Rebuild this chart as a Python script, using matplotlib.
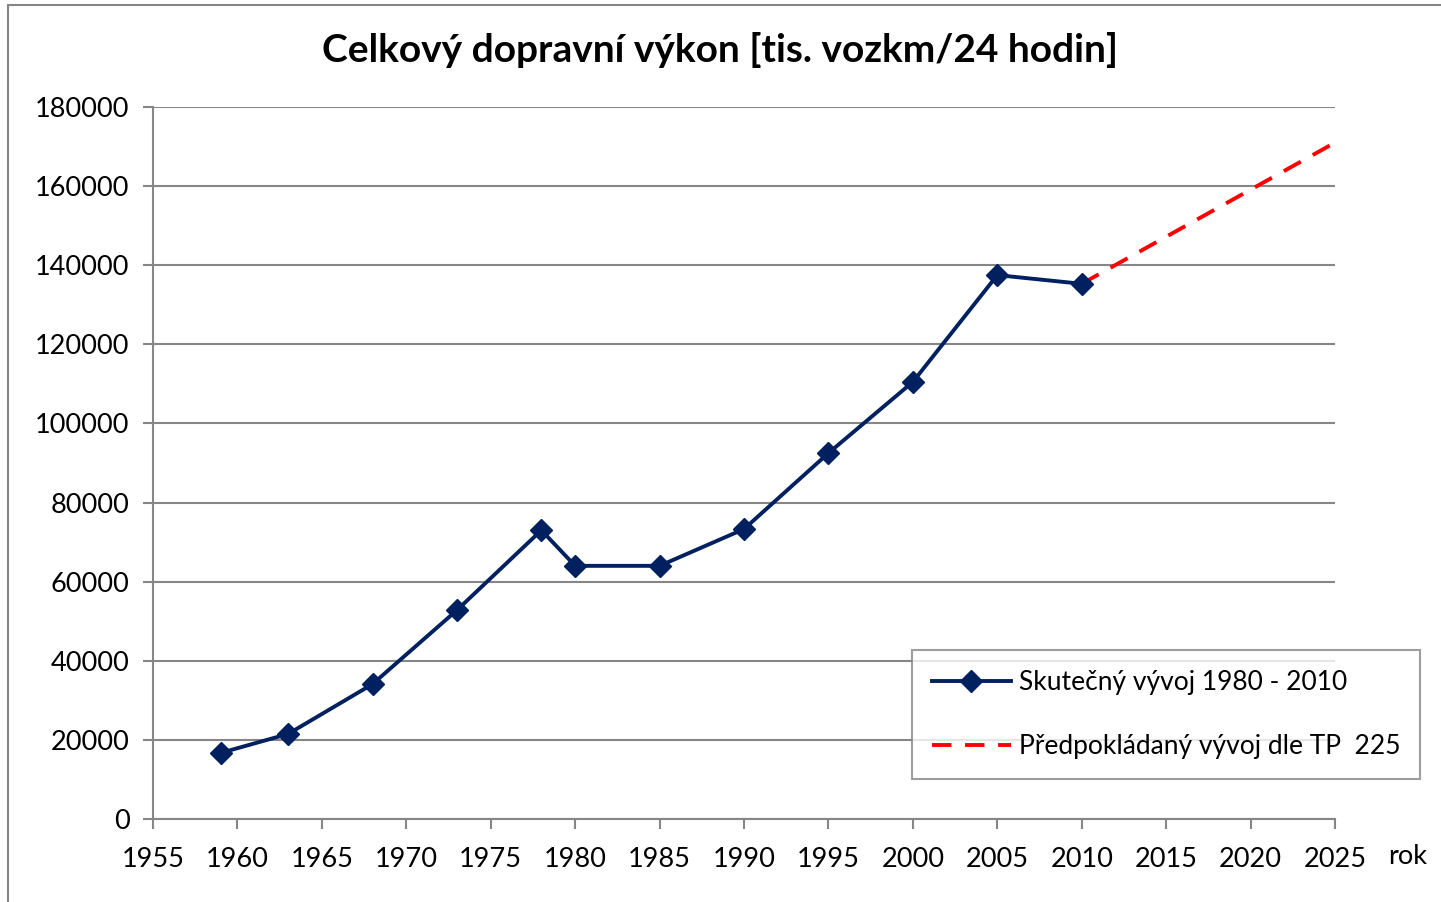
import matplotlib.pyplot as plt
from matplotlib.patches import Rectangle

plt.rcParams['font.family'] = ['Lato', 'DejaVu Sans']

# skutecny vyvoj
years = [1959, 1963, 1968, 1973, 1978, 1980, 1985, 1990, 1995, 2000, 2005, 2010]
vykon = [16700, 21500, 34100, 52800, 73000, 64000, 64000, 73300, 92500, 110500, 137500, 135300]

# predpoklad dle TP 225
years_tp = [2010, 2015, 2020, 2025]
vykon_tp = [135300, 147200, 159100, 171000]

xticks = list(range(1955, 2030, 5))
yticks = list(range(0, 200000, 20000))

navy = '#002060'
grey = '#868686'

fig = plt.figure(figsize=(14.41, 9.02), dpi=100)
fig.patches.append(Rectangle((8 / 1441, -0.1), 1.2, 1.1 - 5 / 902, transform=fig.transFigure,
                             fill=False, edgecolor=grey, linewidth=1.5))
ax = fig.add_axes([153 / 1441, 83 / 902, 1182 / 1441, 712 / 902])

ax.plot(years, vykon, color=navy, lw=2.8, marker='D', ms=11, label='Skutečný vývoj 1980 - 2010', zorder=3)
ax.plot(years_tp, vykon_tp, color='#ff0000', lw=2.8, dashes=(5, 3.5), label='Předpokládaný vývoj dle TP  225', zorder=2)

ax.set_xlim(1955, 2025)
ax.set_ylim(0, 180000)
ax.set_xticks(xticks)
ax.set_yticks(yticks)
ax.tick_params(labelsize=19.5, length=7, width=1.5, color=grey, direction='out', pad=10)
ax.tick_params(axis='x', pad=13)
ax.grid(axis='y', color=grey, lw=1.5)
ax.set_axisbelow(True)
for s in ['top', 'right']:
    ax.spines[s].set_visible(False)
for s in ['left', 'bottom']:
    ax.spines[s].set_color(grey)
    ax.spines[s].set_linewidth(1.5)

fig.text(720 / 1441, 1 - 50 / 902, 'Celkový dopravní výkon [tis. vozkm/24 hodin]',
         ha='center', va='center', fontsize=28, fontweight='bold')
fig.text(1408 / 1441, 1 - 857 / 902, 'rok', ha='center', va='center', fontsize=19.5)

leg = ax.legend(loc='upper right', bbox_to_anchor=(1420 / 1441, 1 - 650 / 902), bbox_transform=fig.transFigure,
                fontsize=19, frameon=True, fancybox=False, handlelength=3, labelspacing=1.5,
                borderpad=0.75, handletextpad=0.3, borderaxespad=0)
leg.get_frame().set_edgecolor(grey)
leg.get_frame().set_linewidth(1.5)

fig.savefig('out.png', dpi=100)
